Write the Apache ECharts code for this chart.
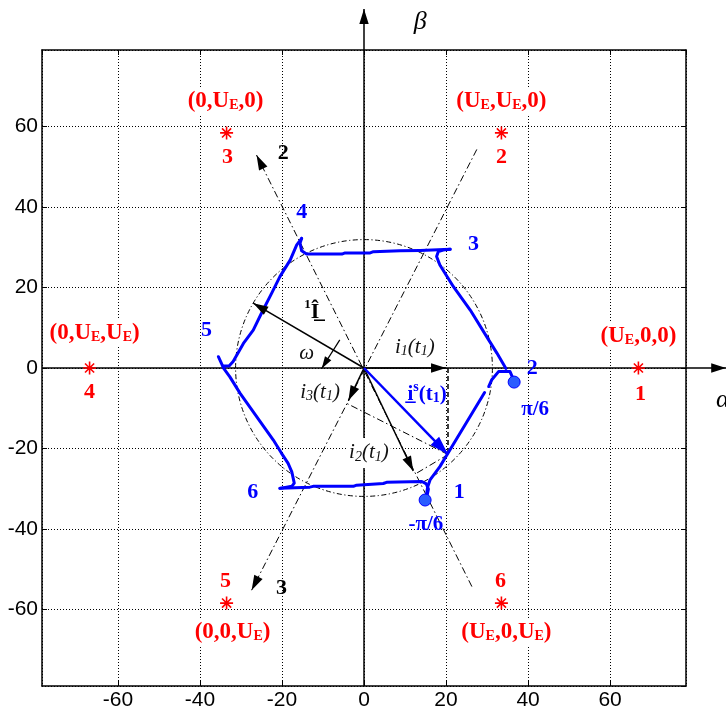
<!DOCTYPE html>
<html>
<head>
<meta charset="utf-8">
<title>Stator current trajectory in the α–β plane</title>
<script src="https://cdn.jsdelivr.net/npm/echarts@6.0.0/dist/echarts.min.js"></script>
<style>
  html, body { margin: 0; padding: 0; background: #fff; }
  #chart { width: 726px; height: 717px; }
</style>
</head>
<body>
<div id="chart"></div>
<script>
// ---- plane limits ----
const xLimits = [-78.5, 78.5];
const yLimits = [-79, 79];

// ---- inverter voltage vectors (switching states) ----
const stateX = [66.9, 33.5, -33.5, -66.9, -33.5, 33.5];
const stateY = [0, 58.4, 58.4, 0, -58.4, -58.4];
const stateTuples = ['(U_E,0,0)', '(U_E,U_E,0)', '(0,U_E,0)', '(0,U_E,U_E)', '(0,0,U_E)', '(U_E,0,U_E)'];
const stateNumbers = ['1', '2', '3', '4', '5', '6'];

// ---- measured current trajectory, one stroke per hexagon side ----
const trajLowerLeft = [[-35.5, 2.8], [-34.2, -0.1], [-32.7, -2.2], [-30.2, -6.3], [-22.1, -17.9], [-20.1, -21.2],
  [-18.5, -23.7], [-17.6, -25.8], [-17.0, -28.6], [-17.6, -29.4], [-20.5, -29.9]];
const trajBottom = [[-20.5, -29.9], [-13.2, -29.6], [-12.4, -29.4], [-2.6, -29.4], [-1.8, -29.1], [4.7, -28.7],
  [5.5, -28.4], [14.1, -28.2], [15.2, -28.8], [15.7, -30.1], [15.4, -31.6]];
const trajLowerRightA = [[14.9, -32.8], [15.3, -31.1], [15.5, -29.6], [16.1, -27.8], [18.5, -24.5], [20.2, -21.6], [29.4, -6.1]];
const trajLowerRightB = [[30.4, -4.6], [31.1, -3.0], [32.8, -0.9], [35.6, -0.9], [36.1, -2.1], [36.6, -3.5]];
const trajUpperRight = [[34.6, -0.1], [32.4, 3.7], [29.9, 7.8], [25.9, 14.4], [21.8, 20.2], [18.5, 25.6],
  [17.7, 27.7], [18.1, 28.9], [19.3, 29.3], [21.0, 29.5]];
const trajTop = [[21.0, 29.5], [13.7, 29.2], [8.8, 29.1], [2.3, 28.9], [1.5, 28.6], [-4.6, 28.6], [-5.4, 28.3],
  [-14.0, 28.3], [-15.2, 29.1], [-15.6, 31.0], [-15.2, 32.2]];
const trajUpperLeft = [[-15.2, 32.2], [-16.4, 30.6], [-18.0, 26.8], [-20.5, 22.7], [-22.5, 18.6], [-25.0, 13.6],
  [-27.0, 9.4], [-29.4, 6.1], [-31.9, 1.6], [-32.9, 0.5], [-34.3, 0.5]];
const sectorEnds = [[36.6, -3.5], [14.9, -32.8]];

// ---- circle of the fundamental current ----
const circleRadius = 31.6;

// ---- current space vector and its phase components at t1 ----
const vecIs = [20.5, -21.5];
const vecI1 = [20.0, 0];
const vecI2 = [12.0, -25.6];
const vecI3 = [-3.8, -8.1];
const vecIhat = [-27.0, 16.1];
const omegaFrom = [-5.9, 7.0];
const omegaTo = [-10.3, -0.1];
const footOnAxis2 = [12.7, -26.2];
const footOnAxis3 = [-4.2, -8.8];
const footOnAlpha = [20.5, 0];
const origin = [0, 0];

// ---- phase axes 2 and 3, α and β axes ----
const phaseAxis2 = [[26.3, -54.3], [-26.2, 52.9]];
const phaseAxis3 = [[27.5, 54.3], [-27.4, -55.2]];
const alphaAxis = [[xLimits[0], 0], [88.3, 0]];
const betaAxis = [[0, yLimits[0]], [0, 89.2]];

// ---- annotation anchors (data units) and texts ----
const vertexLabelPos = [[23.2, -30.8], [41.0, 0], [26.7, 30.8], [-15.2, 38.8], [-38.4, 9.4], [-27.1, -30.8]];
const vertexLabels = ['1', '2', '3', '4', '5', '6'];
const sectorLabelPos = [[41.7, -10.4], [15.1, -38.8]];
const sectorLabels = ['π/6', '-π/6'];
const phaseLabelPos = [[-19.7, 53.3], [-20.1, -54.7]];
const phaseLabels = ['2', '3'];
const mathLabelPos = [[12.4, 5.2], [1.2, -21.1], [-10.7, -6.0], [-14.0, 3.65], [-12.7, 13.9]];
const mathLabels = [
  '{i|i}{isub|1}{i|(t}{isub|1}{i|)}',
  '{i|i}{isub|2}{i|(t}{isub|1}{i|)}',
  '{i|i}{isub|3}{i|(t}{isub|1}{i|)}',
  '{i|ω}',
  '{ksup|1}{k|\u00CE\u0332}'
];
const currentLabelPos = [[15.4, -6.5]];
const currentLabel = ['{b|i\u0332}{bsup|s}{b|(t}{bsub|1}{b|)}'];
const alphaLabelPos = [[85.8, -7.95]];
const betaLabelPos = [[13.7, 86.0]];

// ---- styling ----
const SERIF = '"Liberation Serif", "Times New Roman", serif';
const SANS = '"Liberation Sans", Arial, sans-serif';
const RED = '#ff0000', BLUE = '#0000ff', BLACK = '#000000';
const CLEAR = { color: 'rgba(0,0,0,0)', opacity: 1 };
// solid arrow head, tip in the centre of its box so it ends on the line end
const HEAD = 'path://M16,16L21,32L11,32Z M0,0L0.01,0L0,0.01Z M32,32L31.99,32L32,31.99Z';
const ASTERISK = 'path://M6,0L6,12M0,6L12,6M1.8,1.8L10.2,10.2M1.8,10.2L10.2,1.8';
const DASH_DOT = [7, 3, 1.5, 3];

function seg(a, b) { return { coords: [a, b] }; }

function arrowSeries(data, color, width, headSize, dash, z) {
  return {
    type: 'lines', coordinateSystem: 'cartesian2d', clip: false, silent: true, z: z || 3,
    symbol: ['none', HEAD], symbolSize: [0, headSize],
    lineStyle: { color: color, width: width, type: dash || 'solid', opacity: 1, curveness: 0 },
    data: data
  };
}

function plainLines(data, width, dash) {
  return {
    type: 'lines', coordinateSystem: 'cartesian2d', clip: false, silent: true, z: 2,
    symbol: ['none', 'none'],
    lineStyle: { color: BLACK, width: width, type: dash, opacity: 1, curveness: 0 },
    data: data
  };
}

function strokeSeries(points) {
  return {
    type: 'line', data: points, showSymbol: false, symbol: 'none', silent: true, z: 3,
    lineStyle: { color: BLUE, width: 3, cap: 'round', join: 'round', opacity: 1 }
  };
}

function textSeries(points, texts, label, z) {
  return {
    type: 'scatter', clip: false, silent: true, z: z || 6,
    symbol: 'circle', symbolSize: 1, itemStyle: CLEAR,
    data: points.map((p, i) => ({ value: p, name: texts[i] })),
    label: Object.assign({ show: true, position: 'inside', formatter: p => p.name }, label)
  };
}

function tupleRich(t) {
  return t.split('U_E').map(s => (s ? '{m|' + s + '}' : '')).join('{m|U}{s|E}');
}

// label offsets of the switching-state texts relative to their markers (px)
const tupleOffsets = [[0, -32], [0, -32], [-1, -32], [5, -35], [6, 29], [5, 29]];
const numberOffsets = [[2, 26], [0, 24], [1, 24], [0, 24], [-1, -22], [-1, -22]];

function frameAxis(position, limits, withLabels) {
  return {
    type: 'value', position: position, min: limits[0], max: limits[1], splitNumber: 8,
    axisLine: { onZero: false, lineStyle: { color: BLACK, width: 1.5 } },
    axisTick: { show: true, inside: true, length: 5, lineStyle: { color: BLACK, width: 1 } },
    axisLabel: withLabels ? {
      show: true, color: BLACK, fontFamily: SANS, fontSize: 21, margin: 4,
      showMinLabel: false, showMaxLabel: false
    } : { show: false },
    splitLine: withLabels ? { show: true, lineStyle: { color: BLACK, width: 1, type: [1, 2] } } : { show: false }
  };
}

const chart = echarts.init(document.getElementById('chart'), null, { renderer: 'canvas' });

const option = {
  animation: false,
  backgroundColor: '#ffffff',
  grid: { left: 42, right: 40, top: 50, bottom: 31, containLabel: false, outerBoundsMode: 'none' },
  xAxis: [frameAxis('bottom', xLimits, true), frameAxis('top', xLimits, false)],
  yAxis: [frameAxis('left', yLimits, true), frameAxis('right', yLimits, false)],
  series: [
    // circle of the fundamental
    {
      type: 'custom', coordinateSystem: 'cartesian2d', clip: false, silent: true, z: 2,
      data: [[0, 0, circleRadius]],
      renderItem: function (params, api) {
        const c = api.coord([api.value(0), api.value(1)]);
        const s = api.size([api.value(2), api.value(2)]);
        return {
          type: 'circle',
          shape: { cx: c[0], cy: c[1], r: (s[0] + s[1]) / 2 },
          style: { fill: 'none', stroke: BLACK, lineWidth: 1, lineDash: [5, 2.5, 1.2, 2.5] }
        };
      }
    },
    // phase axes 2 and 3
    arrowSeries([seg(phaseAxis2[0], phaseAxis2[1]), seg(phaseAxis3[0], phaseAxis3[1])], BLACK, 1, 30, DASH_DOT, 2),
    // projections of the current vector on the phase axes
    plainLines([seg(vecIs, footOnAxis3), seg(vecIs, footOnAxis2)], 1, DASH_DOT),
    plainLines([seg(footOnAlpha, vecIs)], 1.5, [5, 3]),
    // current trajectory
    strokeSeries(trajLowerLeft),
    strokeSeries(trajBottom),
    strokeSeries(trajLowerRightA),
    strokeSeries(trajLowerRightB),
    strokeSeries(trajUpperRight),
    strokeSeries(trajTop),
    strokeSeries(trajUpperLeft),
    {
      type: 'scatter', data: sectorEnds, symbol: 'circle', symbolSize: 12, silent: true, z: 4,
      itemStyle: { color: '#2a5cff', borderColor: BLUE, borderWidth: 1, opacity: 1 }
    },
    // phase currents and fundamental
    arrowSeries([seg(origin, vecI1), seg(origin, vecI2), seg(origin, vecI3), seg(origin, vecIhat)], BLACK, 1.5, 30, 'solid', 4),
    arrowSeries([seg(omegaFrom, omegaTo)], BLACK, 1.2, 24, 'solid', 4),
    // current space vector
    arrowSeries([seg(origin, vecIs)], BLUE, 2.5, 38, 'solid', 4),
    // α and β axes
    arrowSeries([seg(alphaAxis[0], alphaAxis[1]), seg(betaAxis[0], betaAxis[1])], BLACK, 1.5, 30, 'solid', 3),
    // switching-state markers with their tuples
    {
      type: 'scatter', silent: true, z: 6,
      symbol: ASTERISK, symbolSize: 13,
      itemStyle: { color: 'rgba(0,0,0,0)', borderColor: RED, borderWidth: 1.6, opacity: 1 },
      data: stateX.map((x, i) => ({
        value: [x, stateY[i]], name: tupleRich(stateTuples[i]),
        label: { offset: tupleOffsets[i] }
      })),
      label: {
        show: true, position: 'inside', formatter: p => p.name,
        backgroundColor: '#ffffff', padding: [0, 2],
        rich: {
          m: { fontFamily: SERIF, fontWeight: 'bold', fontSize: 23, color: RED, lineHeight: 26 },
          s: { fontFamily: SERIF, fontWeight: 'bold', fontSize: 14, color: RED, lineHeight: 26, padding: [9, 0, 0, 0] }
        }
      }
    },
    {
      type: 'scatter', silent: true, z: 6, symbol: 'circle', symbolSize: 1,
      itemStyle: CLEAR,
      data: stateX.map((x, i) => ({ value: [x, stateY[i]], name: stateNumbers[i], label: { offset: numberOffsets[i] } })),
      label: {
        show: true, position: 'inside', formatter: p => p.name,
        fontFamily: SERIF, fontWeight: 'bold', fontSize: 22, color: RED
      }
    },
    // trajectory annotations
    textSeries(vertexLabelPos, vertexLabels, { fontFamily: SERIF, fontWeight: 'bold', fontSize: 22, color: BLUE }),
    textSeries(sectorLabelPos, sectorLabels, { fontFamily: SERIF, fontWeight: 'bold', fontSize: 21, color: BLUE }),
    textSeries(phaseLabelPos, phaseLabels, { fontFamily: SERIF, fontWeight: 'bold', fontSize: 22, color: BLACK }),
    textSeries(mathLabelPos, mathLabels, {
      rich: {
        i: { fontFamily: SERIF, fontStyle: 'italic', fontSize: 21, color: '#111', lineHeight: 26 },
        isub: { fontFamily: SERIF, fontStyle: 'italic', fontSize: 14, color: '#111', lineHeight: 26, padding: [9, 0, 0, 0] },
        k: { fontFamily: SERIF, fontWeight: 'bold', fontSize: 22, color: BLACK, lineHeight: 26 },
        ksup: { fontFamily: SERIF, fontWeight: 'bold', fontSize: 13, color: BLACK, lineHeight: 26, padding: [0, 0, 15, 0] }
      }
    }),
    textSeries(currentLabelPos, currentLabel, {
      rich: {
        b: { fontFamily: SERIF, fontWeight: 'bold', fontSize: 21, color: BLUE, lineHeight: 26 },
        bsup: { fontFamily: SERIF, fontWeight: 'bold', fontSize: 14, color: BLUE, lineHeight: 26, padding: [0, 0, 13, 0] },
        bsub: { fontFamily: SERIF, fontWeight: 'bold', fontSize: 14, color: BLUE, lineHeight: 26, padding: [9, 0, 0, 0] }
      }
    }),
    textSeries(alphaLabelPos, ['α'], { fontFamily: SERIF, fontStyle: 'italic', fontSize: 26, color: BLACK, align: 'left' }),
    textSeries(betaLabelPos, ['β'], { fontFamily: SERIF, fontStyle: 'italic', fontSize: 26, color: BLACK })
  ]
};

// the i2 label sits on a white patch over the β axis
option.series.find(s => s.data && s.data[1] && s.data[1].name === mathLabels[1]).data[1].label = {
  backgroundColor: '#ffffff', padding: [2, 2]
};

chart.setOption(option);
</script>
</body>
</html>
